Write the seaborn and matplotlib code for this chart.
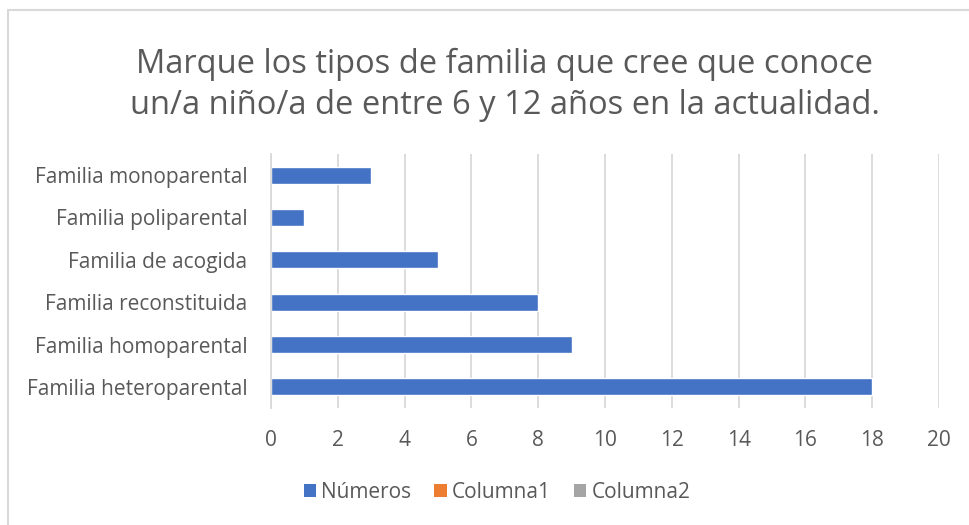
import matplotlib
matplotlib.use("Agg")
import matplotlib.pyplot as plt
import seaborn as sns
import pandas as pd
from matplotlib.patches import Rectangle, Patch

categories = ["Familia monoparental", "Familia poliparental", "Familia de acogida",
              "Familia reconstituida", "Familia homoparental", "Familia heteroparental"]
numeros = [3, 1, 5, 8, 9, 18]
series_names = ["Números", "Columna1", "Columna2"]
series_colors = ["#4472C4", "#ED7D31", "#A5A5A5"]
x_ticks = [0, 2, 4, 6, 8, 10, 12, 14, 16, 18, 20]
title = "Marque los tipos de familia que cree que conoce\nun/a niño/a de entre 6 y 12 años en la actualidad."

df = pd.DataFrame({"categoria": categories, "valor": numeros})

sns.set_style("white")
plt.rcParams["font.family"] = ["Open Sans", "DejaVu Sans"]
text_color = "#595959"
grid_color = "#D9D9D9"

fig = plt.figure(figsize=(9.7, 5.25), dpi=100)
ax = fig.add_axes([271/970, 1-408/525, (939-271)/970, (408-154)/525])

sns.barplot(data=df, x="valor", y="categoria", color=series_colors[0],
            width=0.4, ax=ax, saturation=1)

ax.set_xlim(0, 20)
ax.set_xticks(x_ticks)
ax.set_xticklabels([str(t) for t in x_ticks])
ax.xaxis.grid(True, color=grid_color, linewidth=1.3)
ax.set_axisbelow(True)
for s in ["top", "right", "bottom"]:
    ax.spines[s].set_visible(False)
ax.spines["left"].set_color(grid_color)
ax.spines["left"].set_linewidth(1.3)
ax.tick_params(axis="both", length=0, labelsize=15, colors=text_color)
ax.tick_params(axis="x", pad=16)
ax.tick_params(axis="y", pad=17)
ax.set_xlabel("")
ax.set_ylabel("")

fig.text(505/970, 1-85/525, title, ha="center", va="center", fontsize=23.5,
         color=text_color, linespacing=1.35)

handles = [Patch(facecolor=c, edgecolor="none") for c in series_colors]
fig.legend(handles, series_names, loc="center", bbox_to_anchor=(497/970, 1-492/525),
           ncol=3, frameon=False, fontsize=15, labelcolor=text_color,
           handlelength=0.6, handleheight=0.6, handletextpad=0.25, columnspacing=1.1)

frame = Rectangle((8.5/970, -0.1), 1.2, 1 + 0.1 - 10/525, transform=fig.transFigure,
                  fill=False, edgecolor=grid_color, linewidth=1.5)
fig.patches.append(frame)

fig.savefig("out.png", dpi=100)
